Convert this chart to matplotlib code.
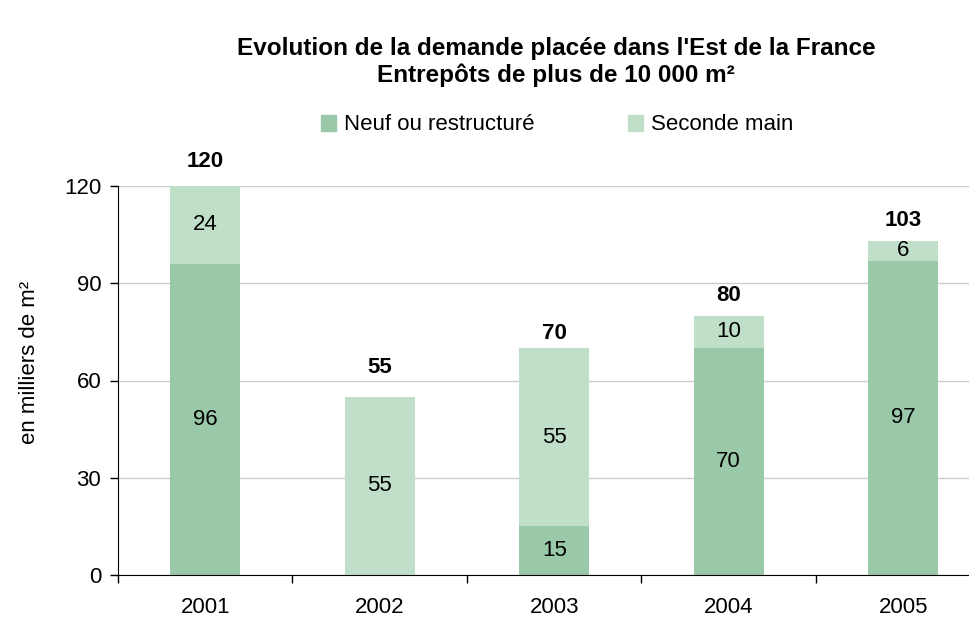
import matplotlib
matplotlib.use("Agg")
import matplotlib.pyplot as plt
from matplotlib.patches import Patch
import numpy as np

plt.rcParams['font.family'] = ['Liberation Sans', 'DejaVu Sans']

# Données (milliers de m²)
years = ["2001", "2002", "2003", "2004", "2005"]
neuf = [96, 0, 15, 70, 97]
seconde = [24, 55, 55, 10, 6]
totals = [120, 55, 70, 80, 103]

# écart (points) entre le haut de la barre et l'étiquette du total
total_gap = [13.5, 17, 6.5, 10.8, 10.8]

col_neuf = "#99c9a9"
col_seconde = "#c0dfc9"

fig = plt.figure(figsize=(9.70, 6.22), dpi=100)
ax = fig.add_axes([118 / 970, 47 / 622, 872.5 / 970, 389 / 622])

x = np.arange(len(years))
w = 0.4
ax.bar(x, neuf, w, color=col_neuf, zorder=2)
ax.bar(x, seconde, w, bottom=neuf, color=col_seconde, zorder=2)

# valeurs dans les barres
for i in range(len(years)):
    if neuf[i] > 0:
        ax.text(x[i], neuf[i] / 2, str(neuf[i]), ha='center', va='center', fontsize=16)
    if seconde[i] > 0:
        ax.text(x[i], neuf[i] + seconde[i] / 2, str(seconde[i]), ha='center', va='center', fontsize=16)
    ax.annotate(str(totals[i]), (x[i], totals[i]), xytext=(0, total_gap[i]), textcoords='offset points',
                ha='center', va='baseline', fontsize=16, fontweight='bold')

ax.set_xlim(-0.5, len(years) - 0.5)
ax.set_ylim(0, 120)
ax.set_yticks([0, 30, 60, 90, 120])
ax.set_xticks(np.arange(len(years) + 1) - 0.5, minor=False)
ax.set_xticklabels([])
ax.set_xticks(x, minor=True)
ax.set_xticklabels(years, minor=True, fontsize=16)
ax.tick_params(axis='x', which='major', length=6, direction='out', width=1)
ax.tick_params(axis='x', which='minor', length=0, pad=16)
ax.tick_params(axis='y', length=6, direction='out', labelsize=16, width=1, pad=6)

ax.grid(axis='y', color='#cccccc', linewidth=1, zorder=0)
ax.spines['top'].set_visible(False)
ax.spines['right'].set_visible(False)
ax.set_ylabel("en milliers de m²", fontsize=16)
ax.yaxis.set_label_coords((40 - 118) / 872.5, (575 - 362) / 389)

fig.text(556 / 970, 1 - 48 / 622, "Evolution de la demande placée dans l'Est de la France",
         ha='center', va='center', fontsize=17.5, fontweight='bold')
fig.text(556 / 970, 1 - 75 / 622, "Entrepôts de plus de 10 000 m²",
         ha='center', va='center', fontsize=17.5, fontweight='bold')

handles = [Patch(color=col_neuf, label="Neuf ou restructuré"),
           Patch(color=col_seconde, label="Seconde main")]
fig.legend(handles=handles, loc='center', bbox_to_anchor=(557 / 970, 1 - 125 / 622), ncol=2,
           frameon=False, fontsize=16, handlelength=0.7, handleheight=0.7,
           handletextpad=0.35, columnspacing=4.2, borderpad=0, borderaxespad=0)

fig.savefig("out.png", dpi=100)
